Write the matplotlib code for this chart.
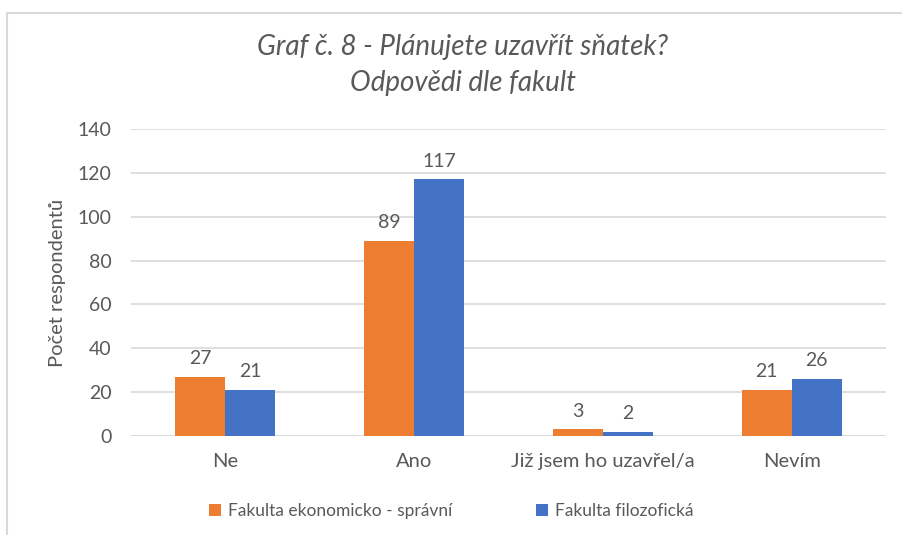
import numpy as np
from matplotlib import pyplot as plt
from matplotlib.patches import Rectangle

# data
categories = ['Ne', 'Ano', 'Již jsem ho uzavřel/a', 'Nevím']
ekonomicka = [27, 89, 3, 21]
filozoficka = [21, 117, 2, 26]
series_names = ['Fakulta ekonomicko - správní', 'Fakulta filozofická']
y_ticks = [0, 20, 40, 60, 80, 100, 120, 140]

plt.rcParams['font.family'] = ['Lato', 'DejaVu Sans']
text_grey = '#595959'
orange = '#ED7D31'
blue = '#4472C4'

fig = plt.figure(figsize=(9.02, 5.35), dpi=100)
ax = fig.add_axes([0.1452, 0.185, 0.8371, 0.5738])

# light frame of the chart area (only top and left edges are visible)
fig.add_artist(Rectangle((0.0078, -0.2), 1.5, 0.2 + 0.9757, transform=fig.transFigure,
                         fill=False, edgecolor='#D9D9D9', linewidth=1.5))

x = np.arange(len(categories))
w = 0.265
b1 = ax.bar(x - w / 2, ekonomicka, w, color=orange, label=series_names[0], zorder=3)
b2 = ax.bar(x + w / 2, filozoficka, w, color=blue, label=series_names[1], zorder=3)

for bars in (b1, b2):
    ax.bar_label(bars, padding=7, fontsize=14, color=text_grey)

ax.set_xlim(-0.5, len(categories) - 0.5)
ax.set_ylim(0, 140)
ax.set_yticks(y_ticks)
ax.set_xticks(x)
ax.set_xticklabels(categories)
ax.tick_params(axis='y', length=0, labelsize=14, labelcolor=text_grey, pad=14)
ax.tick_params(axis='x', length=0, labelsize=14.5, labelcolor=text_grey, pad=12)
ax.grid(axis='y', color='#D9D9D9', linewidth=1.2, zorder=0)
for s in ax.spines.values():
    s.set_visible(False)
ax.axhline(0, color='#D9D9D9', linewidth=1.2, zorder=1)

ax.set_ylabel('Počet respondentů', fontsize=14.5, color=text_grey, labelpad=8)

fig.text(0.513, 0.912, 'Graf č. 8 - Plánujete uzavřít sňatek?',
         ha='center', va='center', fontsize=20, style='italic', color=text_grey)
fig.text(0.513, 0.845, 'Odpovědi dle fakult',
         ha='center', va='center', fontsize=20, style='italic', color=text_grey)

fig.legend(loc='center', bbox_to_anchor=(0.5, 0.045), ncol=2, frameon=False,
           fontsize=12.5, labelcolor=text_grey, handlelength=0.7, handleheight=0.7,
           handletextpad=0.4, columnspacing=4.8)

fig.savefig('out.png', dpi=100)
plt.close(fig)
